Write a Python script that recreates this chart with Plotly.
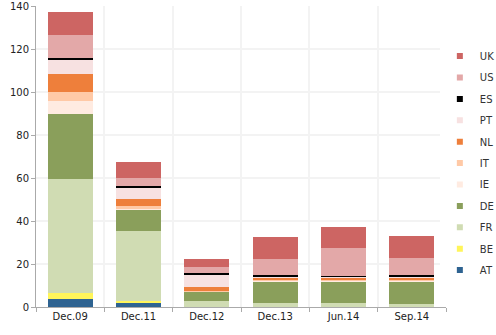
import plotly.graph_objects as go

periods = ["Dec.09", "Dec.11", "Dec.12", "Dec.13", "Jun.14", "Sep.14"]
countries = ["AT", "BE", "FR", "DE", "IE", "IT", "NL", "PT", "ES", "US", "UK"]
AT = [3.6, 2.0, 0.0, 0.0, 0.0, 0.0]
BE = [3.1, 0.8, 0.0, 0.0, 0.0, 0.0]
FR = [52.8, 32.7, 2.6, 2.0, 2.0, 1.4]
DE = [30.5, 9.8, 4.5, 9.8, 9.8, 10.4]
IE = [6.0, 0.3, 0.2, 0.3, 0.3, 0.3]
IT = [4.0, 1.5, 0.3, 0.8, 0.8, 0.8]
NL = [8.6, 3.0, 1.9, 0.8, 0.8, 0.8]
PT = [6.3, 5.7, 5.5, 0.7, 0.5, 0.6]
ES = [0.8, 0.6, 0.9, 0.5, 0.2, 0.4]
US = [10.9, 3.4, 2.5, 7.4, 13.1, 7.9]
UK = [10.8, 7.8, 4.0, 10.3, 9.5, 10.3]
values = dict(AT=AT, BE=BE, FR=FR, DE=DE, IE=IE, IT=IT, NL=NL, PT=PT, ES=ES, US=US, UK=UK)
colors = dict(AT="#2E6391", BE="#FFF55A", FR="#D0DCB3", DE="#8A9F5B", IE="#FFEBE1",
              IT="#FFC9A6", NL="#EE7F3B", PT="#F7E1E1", ES="#000000", US="#E3A8A8", UK="#CD6563")

fig = go.Figure()
for c in countries:
    fig.add_trace(go.Bar(x=periods, y=values[c], name=c, marker_color=colors[c],
                         marker_line_width=0, showlegend=False))
for c in reversed(countries):
    fig.add_trace(go.Scatter(x=[None], y=[None], mode="markers", name=c, legendgroup=c,
                             marker=dict(symbol="square", size=6, color=colors[c])))

fig.update_layout(
    barmode="stack", bargap=0.34,
    width=496, height=335,
    margin=dict(l=36, r=50, t=6, b=28, autoexpand=False),
    plot_bgcolor="white", paper_bgcolor="white",
    font=dict(family="DejaVu Sans", size=10, color="#222"),
    legend=dict(traceorder="grouped", tracegroupgap=2.4,
                x=0.985, xanchor="left", y=0.478, yanchor="middle",
                font=dict(size=10, color="#333"), itemwidth=30),
    xaxis=dict(showline=True, linecolor="#AAAAAA", ticks="outside", tickson="boundaries",
               ticklen=4, tickcolor="#AAAAAA", showgrid=True, gridcolor="#F3F3F3", gridwidth=1.5,
               automargin=False),
    yaxis=dict(range=[0, 140], dtick=20, showline=True, linecolor="#AAAAAA", ticks="outside",
               ticklen=4, tickcolor="#AAAAAA", gridcolor="#F3F3F3", gridwidth=1.5, zeroline=False,
               automargin=False),
)
fig.write_html("out.html")
